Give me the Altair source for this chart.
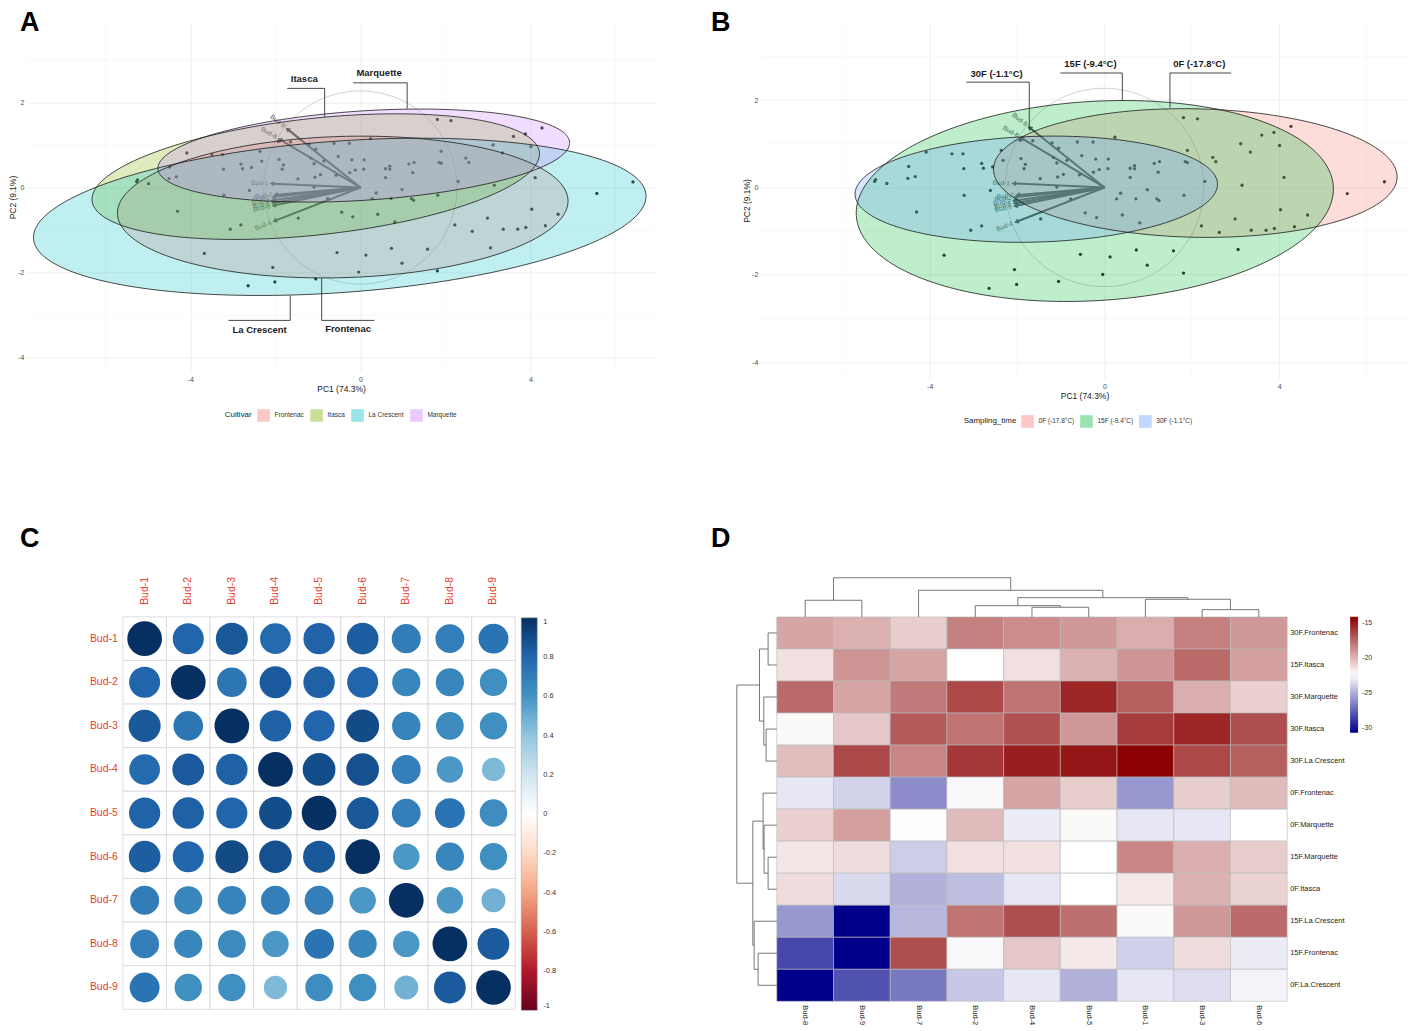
import numpy as np
import pandas as pd
import altair as alt

FONT = "Liberation Sans"
MINUS_FIX = "replace(datum.label, '\u2212', '-')"

pc1 = [-4.08, -3.49, -3.24, -4.48, -3.22, -2.81, -2.77, -2.56, -4.33, -4.50,
       -5.24, -5.26, -4.98, -3.21, -2.61, -4.30, -3.06, -2.81, -1.46, -2.36,
       -1.93, -1.64, -1.20, -1.05, -0.62, -0.26, -2.32, -1.91, -1.81, -1.84,
       -1.17, -1.09, -0.86, -0.52, -0.20, 0.09, -1.47, -1.07, -0.94, -0.57,
       -0.25, -0.12, 0.08, -1.09, -0.77, -0.44, -0.18, 0.28,
       -3.67, -2.06, -2.64, -2.01, -1.05, -0.55, -0.04, 0.13,
       1.81, 2.13, 4.27, 3.60, 3.88, 3.12, 4.01, 3.34, 1.90, 2.48,
       2.55, 4.11, 3.15, 2.30, 5.56, 6.41, 4.03, 4.65, 2.99, 2.22,
       2.63, 3.36, 3.70, 3.89, 4.35,
       0.24, 0.59, 0.69, 0.69, 1.14, 1.26, 1.23, 1.85, 1.90, 0.59,
       0.98, 0.37, 0.72, 1.20, 1.25, 1.82, 0.41, 0.81,
       0.73, 1.58, 3.06, 0.98, 1.81]
pc2 = [0.81, 0.77, 0.77, 0.48, 0.43, 0.55, 0.44, 0.47, 0.25, 0.21,
       0.18, 0.14, 0.09, -0.18, -0.07, -0.56, -0.98, -0.88, -0.72, 0.85,
       1.08, 1.07, 1.02, 0.90, 1.04, 1.04, 0.62, 0.66, 0.53, 0.43,
       0.69, 0.56, 0.62, 0.73, 0.65, 0.65, 0.20, 0.24, 0.30, 0.29,
       0.35, 0.41, 0.43, 0.01, -0.26, -0.58, -0.69, -0.26,
       -1.55, -1.88, -2.31, -2.22, -2.15, -1.53, -1.99, -1.59,
       1.60, 1.57, 1.40, 1.20, 1.26, 1.00, 0.96, 0.81, 0.85, 0.69,
       0.59, 0.23, 0.05, 0.14, -0.14, 0.13, -0.51, -0.63, -0.72, -0.88,
       -1.03, -0.98, -0.98, -0.94, -0.90,
       1.15, 0.44, 0.50, 0.43, 0.55, 0.59, 0.35, 0.59, 0.57, 0.23,
       -0.05, -0.13, -0.26, -0.26, -0.30, -0.18, -0.63, -0.81,
       -1.43, -1.45, -1.42, -1.78, -1.96]

# variable arrows (loadings scaled)
bud_names = ["Bud-1", "Bud-2", "Bud-3", "Bud-4", "Bud-5", "Bud-6", "Bud-7", "Bud-8", "Bud-9"]
load_pc1 = [-2.06, -2.02, -2.05, -2.00, -2.03, -2.02, -1.97, -1.88, -1.70]
load_pc2 = [0.09, -0.22, -0.30, -0.78, -0.36, -0.42, -0.17, 1.12, 1.36]
corr_circle_r = 2.27

pc_x_ticks = [-4, 0, 4]
pc_y_ticks = [-4, -2, 0, 2]
minor_x = [-6, -2, 2, 6]
minor_y = [-3, -1, 1, 3]

# ---- Panel A: cultivar ellipses ----
cult_names = ["Frontenac", "Itasca", "La Crescent", "Marquette"]
cult_colors = ["#F8766D", "#7CAE00", "#00BFC4", "#C77CFF"]
cult_cx = [-0.415, -1.05, -0.485, 0.08]
cult_cy = [-0.46, 0.255, -0.69, 0.75]
cult_a = [5.30, 5.29, 7.22, 4.85]
cult_b = [1.66, 1.37, 1.78, 1.05]
cult_ang = [1.7, 6.2, 4.1, 3.7]
annA_text = ["Itasca", "Marquette", "La Crescent", "Frontenac"]
annA_tx = [-1.32, 0.44, -2.37, -0.29]
annA_ty = [2.55, 2.68, -3.34, -3.32]
annA_hx1 = [-1.72, -0.17, -3.10, -0.91]
annA_hx2 = [-0.84, 1.10, -1.65, 0.33]
annA_hy = [2.33, 2.46, -3.125, -3.125]
annA_vx = [-0.84, 1.10, -1.65, -0.91]
annA_vy2 = [1.66, 1.85, -2.54, -2.13]

# ---- Panel B: sampling-time ellipses ----
time_names = ["0F (-17.8°C)", "15F (-9.4°C)", "30F (-1.1°C)"]
time_colors = ["#F8766D", "#00BA38", "#619CFF"]
time_cx = [2.08, -0.22, -1.56]
time_cy = [0.33, -0.31, -0.04]
time_a = [4.62, 5.47, 4.15]
time_b = [1.47, 2.28, 1.21]
time_ang = [-1.2, 3.5, 1.7]
annB_text = ["30F (-1.1°C)", "15F (-9.4°C)", "0F (-17.8°C)"]
annB_tx = [-2.47, -0.32, 2.17]
annB_ty = [2.60, 2.83, 2.83]
annB_hx1 = [-3.16, -1.01, 1.50]
annB_hx2 = [-1.72, 0.41, 2.90]
annB_hy = [2.41, 2.62, 2.62]
annB_vx = [-1.72, 0.41, 1.50]
annB_vy2 = [1.33, 2.00, 1.83]

# ---- Panel C: correlation matrix ----
corr_matrix = [
    [1.00, 0.80, 0.85, 0.78, 0.81, 0.83, 0.70, 0.69, 0.74],
    [0.80, 1.00, 0.73, 0.84, 0.82, 0.80, 0.66, 0.66, 0.62],
    [0.85, 0.73, 1.00, 0.82, 0.80, 0.90, 0.67, 0.64, 0.62],
    [0.78, 0.84, 0.82, 1.00, 0.89, 0.88, 0.69, 0.58, 0.45],
    [0.81, 0.82, 0.80, 0.89, 1.00, 0.85, 0.69, 0.74, 0.63],
    [0.83, 0.80, 0.90, 0.88, 0.85, 1.00, 0.58, 0.66, 0.62],
    [0.70, 0.66, 0.67, 0.69, 0.69, 0.58, 1.00, 0.58, 0.48],
    [0.69, 0.66, 0.64, 0.58, 0.74, 0.66, 0.58, 1.00, 0.84],
    [0.74, 0.62, 0.62, 0.45, 0.63, 0.62, 0.48, 0.84, 1.00],
]
corr_ticks = [-1, -0.8, -0.6, -0.4, -0.2, 0, 0.2, 0.4, 0.6, 0.8, 1]
rdbu = ["#67001F", "#B2182B", "#D6604D", "#F4A582", "#FDDBC7", "#FFFFFF",
        "#D1E5F0", "#92C5DE", "#4393C3", "#2166AC", "#053061"]

# ---- Panel D: heatmap ----
heat_cols = ["Bud-8", "Bud-9", "Bud-7", "Bud-2", "Bud-4", "Bud-5", "Bud-1", "Bud-3", "Bud-6"]
heat_rows = ["30F.Frontenac", "15F.Itasca", "30F.Marquette", "30F.Itasca", "30F.La.Crescent",
             "0F.Frontenac", "0F.Marquette", "15F.Marquette", "0F.Itasca", "15F.La.Crescent",
             "15F.Frontenac", "0F.La.Crescent"]
heat_vals = [
    [-19.5, -19.9, -20.8, -18.3, -18.7, -19.1, -19.8, -18.3, -19.1],
    [-21.4, -19.0, -19.5, -22.4, -21.4, -19.9, -19.0, -17.6, -19.3],
    [-17.6, -19.5, -18.1, -16.5, -17.9, -15.4, -17.3, -19.8, -20.9],
    [-22.2, -20.6, -17.1, -17.9, -16.8, -19.1, -16.1, -15.4, -16.7],
    [-20.3, -16.5, -18.5, -16.0, -15.2, -14.9, -14.2, -16.5, -17.3],
    [-23.2, -23.8, -26.1, -22.6, -19.5, -20.8, -25.7, -20.8, -20.2],
    [-20.9, -19.3, -22.3, -20.2, -23.0, -22.2, -23.2, -23.2, -22.4],
    [-21.6, -21.3, -24.0, -21.4, -21.4, -22.4, -18.5, -19.8, -20.8],
    [-21.3, -23.6, -24.9, -24.5, -23.2, -22.4, -21.7, -19.9, -21.0],
    [-25.7, -30.6, -24.7, -17.9, -16.7, -17.8, -22.2, -19.1, -17.6],
    [-28.3, -30.6, -16.7, -22.6, -20.6, -21.7, -23.9, -21.3, -23.0],
    [-30.6, -28.0, -26.7, -24.2, -23.2, -24.9, -23.2, -23.5, -22.8],
]
heat_ticks = [-30, -25, -20, -15]
# dendrogram merges: (left, right, height); ints = leaves, "mK" = earlier merge
col_merges = [(4, 5, 9.7), (7, 8, 7.3), (3, "m0", 11.3), (6, "m1", 17.7), ("m2", "m3", 19.3),
              (0, 1, 16.7), (2, "m4", 26.7), ("m5", "m6", 39.3)]
row_merges = [(0, 1, 8.7), (3, 4, 10.7), (2, "m1", 13.0), ("m0", "m2", 17.3), (7, 8, 8.7),
              (6, "m4", 12.7), (5, "m5", 13.7), (10, 11, 18.7), (9, "m7", 22.7),
              ("m6", "m8", 24.0), ("m3", "m9", 40.0)]

# ====================================================================

def ellipse_frames(names, cx, cy, a, b, ang, field):
    fill_rows, line_rows = [], []
    for n, x0, y0, aa, bb, th in zip(names, cx, cy, a, b, ang):
        t = np.radians(th)
        c, s = np.cos(t), np.sin(t)
        W = np.sqrt((aa * c) ** 2 + (bb * s) ** 2)
        u = -W * np.cos(np.linspace(0, np.pi, 181))
        A_ = s ** 2 / aa ** 2 + c ** 2 / bb ** 2
        B_ = 2 * u * s * c * (1 / aa ** 2 - 1 / bb ** 2)
        C_ = u ** 2 * (c ** 2 / aa ** 2 + s ** 2 / bb ** 2) - 1
        disc = np.sqrt(np.clip(B_ ** 2 - 4 * A_ * C_, 0, None))
        ylo = (-B_ - disc) / (2 * A_)
        yhi = (-B_ + disc) / (2 * A_)
        for ui, lo, hi in zip(u, ylo, yhi):
            fill_rows.append({field: n, "x": x0 + ui, "ylo": y0 + lo, "yhi": y0 + hi})
        p = np.linspace(0, 2 * np.pi, 241)
        ex = x0 + aa * c * np.cos(p) - bb * s * np.sin(p)
        ey = y0 + aa * s * np.cos(p) + bb * c * np.sin(p)
        for k, (xx, yy) in enumerate(zip(ex, ey)):
            line_rows.append({field: n, "x": xx, "y": yy, "k": k})
    return pd.DataFrame(fill_rows), pd.DataFrame(line_rows)


def letter_title(letter, dx, off):
    return alt.TitleParams(text=letter, anchor="start", frame="group", dx=dx, offset=off,
                           fontSize=27, fontWeight="bold", font=FONT, color="black",
                           baseline="alphabetic")


def pca_panel(field, names, colors, cx, cy, a, b, ang, ann, xdom, ydom, w, h,
              legend_title, legend_x, legend_y, letter, letter_dx, letter_off):
    fill_df, line_df = ellipse_frames(names, cx, cy, a, b, ang, field)
    xs = alt.Scale(domain=xdom, nice=False, zero=False)
    ys = alt.Scale(domain=ydom, nice=False, zero=False)
    common = dict(grid=True, gridColor="#ebebeb", gridWidth=0.8, domain=False, ticks=False,
                  labelFontSize=7, labelColor="#4d4d4d", titleFontSize=8.5,
                  titleFontWeight="normal", titleColor="#1a1a1a", format="d",
                  labelExpr=MINUS_FIX, labelFont=FONT, titleFont=FONT)
    ax = alt.Axis(title="PC1 (74.3%)", values=pc_x_ticks, labelPadding=3, titlePadding=2, **common)
    ay = alt.Axis(title="PC2 (9.1%)", values=pc_y_ticks, labelPadding=3, titlePadding=0, **common)

    def X(f):
        return alt.X(f"{f}:Q", scale=xs, axis=ax)

    def Y(f):
        return alt.Y(f"{f}:Q", scale=ys, axis=ay)

    mx = alt.Chart(pd.DataFrame({"x": minor_x})).mark_rule(color="#f4f4f4", strokeWidth=0.6).encode(x=X("x"))
    my = alt.Chart(pd.DataFrame({"y": minor_y})).mark_rule(color="#f4f4f4", strokeWidth=0.6).encode(y=Y("y"))

    tt = np.linspace(0, 2 * np.pi, 181)
    circ_df = pd.DataFrame({"x": corr_circle_r * np.cos(tt), "y": corr_circle_r * np.sin(tt),
                            "k": np.arange(len(tt))})
    circ = alt.Chart(circ_df).mark_line(color="#bdbdbd", strokeWidth=0.7).encode(
        x=X("x"), y=Y("y"), order="k:Q")

    arr = pd.DataFrame({"name": bud_names, "x": load_pc1, "y": load_pc2})
    arr["x0"] = 0.0
    arr["y0"] = 0.0
    arr["lx"] = arr["x"] * 1.05
    arr["ly"] = arr["y"] * 1.05
    arr["tangle"] = (-np.degrees(np.arctan(arr["y"] / arr["x"]))) % 360
    arr["hangle"] = np.degrees(np.arctan2(arr["x"], arr["y"])) % 360
    arrows = alt.Chart(arr).mark_rule(color="#454545", strokeWidth=2.0).encode(
        x=X("x0"), y=Y("y0"), x2="x:Q", y2="y:Q")
    heads = alt.Chart(arr).mark_point(shape="triangle", filled=True, size=30, color="#454545",
                                      opacity=1).encode(
        x=X("x"), y=Y("y"), angle=alt.Angle("hangle:Q", scale=None))
    alabels = alt.Chart(arr).mark_text(align="right", baseline="middle", fontSize=6.5,
                                       color="#555555", font=FONT).encode(
        x=X("lx"), y=Y("ly"), text="name:N", angle=alt.Angle("tangle:Q", scale=None))

    pts = alt.Chart(pd.DataFrame({"x": pc1, "y": pc2})).mark_circle(
        size=11, color="#262626", opacity=1).encode(x=X("x"), y=Y("y"))

    fills = alt.Chart(fill_df).mark_area(fillOpacity=0.25, interpolate="linear").encode(
        x=X("x"), y=Y("ylo"), y2="yhi:Q",
        color=alt.Color(f"{field}:N", scale=alt.Scale(domain=names, range=colors),
                        legend=alt.Legend(title=legend_title, orient="none", legendX=legend_x,
                                          legendY=legend_y, direction="horizontal",
                                          titleOrient="left", symbolType="square", symbolSize=160,
                                          symbolOpacity=0.4, symbolStrokeWidth=0.8,
                                          labelFontSize=6.5, titleFontSize=8,
                                          titleFontWeight="normal", labelFont=FONT, titleFont=FONT,
                                          columnPadding=5, labelOffset=4, titlePadding=4,
                                          labelColor="#333333", titleColor="#1a1a1a")))
    outlines = alt.Chart(line_df).mark_line(color="#1a1a1a", strokeWidth=0.8).encode(
        x=X("x"), y=Y("y"), detail=f"{field}:N", order="k:Q")

    text, tx, ty, hx1, hx2, hy, vx, vy2 = ann
    ann_df = pd.DataFrame({"label": text, "tx": tx, "ty": ty, "hx1": hx1, "hx2": hx2,
                           "hy": hy, "vx": vx, "vy2": vy2})
    lead_h = alt.Chart(ann_df).mark_rule(color="#333333", strokeWidth=0.9).encode(
        x=X("hx1"), x2="hx2:Q", y=Y("hy"))
    lead_v = alt.Chart(ann_df).mark_rule(color="#333333", strokeWidth=0.9).encode(
        x=X("vx"), y=Y("hy"), y2="vy2:Q")
    ann_txt = alt.Chart(ann_df).mark_text(fontWeight="bold", fontSize=9.5, color="#1a1a1a",
                                          align="center", baseline="middle", font=FONT).encode(
        x=X("tx"), y=Y("ty"), text="label:N")

    return alt.layer(mx, my, circ, arrows, heads, alabels, pts, fills, outlines,
                     lead_h, lead_v, ann_txt).properties(
        width=w, height=h, title=letter_title(letter, letter_dx, letter_off))


panelA = pca_panel("Cultivar", cult_names, cult_colors, cult_cx, cult_cy, cult_a, cult_b, cult_ang,
                   (annA_text, annA_tx, annA_ty, annA_hx1, annA_hx2, annA_hy, annA_vx, annA_vy2),
                   [-7.84, 6.93], [-4.343, 3.897], 629, 351, "Cultivar", 198, 387, "A", -7, -37)
panelB = pca_panel("Sampling_time", time_names, time_colors, time_cx, time_cy, time_a, time_b,
                   time_ang,
                   (annB_text, annB_tx, annB_ty, annB_hx1, annB_hx2, annB_hy, annB_vx, annB_vy2),
                   [-7.863, 6.949], [-4.389, 3.794], 648, 358, "Sampling_time", 203, 393, "B",
                   -50, -37)

# ---------------- Panel C ----------------
c_rows = []
for j, rn in enumerate(bud_names):
    for i, cn in enumerate(bud_names):
        r = corr_matrix[j][i]
        c_rows.append({"x": i, "x2": i + 1, "y": j, "y2": j + 1, "xc": i + 0.5, "yc": j + 0.5,
                       "r": r, "absr": abs(r)})
c_df = pd.DataFrame(c_rows)
xsC = alt.Scale(domain=[0, 9], nice=False, zero=False)
ysC = alt.Scale(domain=[-0.916, 9], reverse=True, nice=False, zero=False)
c_cells = alt.Chart(c_df).mark_rect(fill="white", stroke="#d6d6df", strokeWidth=0.8).encode(
    x=alt.X("x:Q", scale=xsC, axis=None), x2="x2:Q",
    y=alt.Y("y:Q", scale=ysC, axis=None), y2="y2:Q")
c_circ = alt.Chart(c_df).mark_circle(opacity=1).encode(
    x=alt.X("xc:Q", scale=xsC, axis=None), y=alt.Y("yc:Q", scale=ysC, axis=None),
    size=alt.Size("absr:Q", scale=alt.Scale(domain=[0, 1], range=[0, 1210]), legend=None),
    color=alt.Color("r:Q", scale=alt.Scale(domain=corr_ticks, range=rdbu, interpolate="rgb"),
                    legend=alt.Legend(title=None, orient="none", legendX=399, legendY=41,
                                      direction="vertical", gradientLength=393,
                                      gradientThickness=16, values=corr_ticks, format=".1~f",
                                      labelExpr=MINUS_FIX,
                                      labelFontSize=7.5, labelColor="#333333", labelOffset=6,
                                      labelFont=FONT, labelOverlap=False,
                                      gradientStrokeColor="#999999", gradientStrokeWidth=0.5)))
lab_df = pd.DataFrame({"name": bud_names, "pos": [k + 0.5 for k in range(9)]})
lab_df["top"] = -0.275
lab_df["left"] = -0.115
c_top = alt.Chart(lab_df).mark_text(angle=270, align="left", baseline="middle", fontSize=10.5,
                                    color="#E5402F", font=FONT).encode(
    x=alt.X("pos:Q", scale=xsC, axis=None), y=alt.Y("top:Q", scale=ysC, axis=None), text="name:N")
c_left = alt.Chart(lab_df).mark_text(align="right", baseline="middle", fontSize=10.5,
                                     color="#E5402F", font=FONT).encode(
    x=alt.X("left:Q", scale=xsC, axis=None), y=alt.Y("pos:Q", scale=ysC, axis=None), text="name:N")
panelC = alt.layer(c_cells, c_circ, c_top, c_left).properties(
    width=393, height=433, title=letter_title("C", -103, 3))

# ---------------- Panel D ----------------
d_rows = []
for j, rn in enumerate(heat_rows):
    for i, cn in enumerate(heat_cols):
        d_rows.append({"x": i, "x2": i + 1, "y": j, "y2": j + 1, "v": heat_vals[j][i]})
d_df = pd.DataFrame(d_rows)
xsD = alt.Scale(domain=[-0.72, 9], nice=False, zero=False)
ysD = alt.Scale(domain=[-1.25, 12], reverse=True, nice=False, zero=False)


def dendro_segments(merges, n):
    pos = {i: (i + 0.5, 0.0) for i in range(n)}
    segs = []
    for k, (l, r, hgt) in enumerate(merges):
        pl, hl = pos[l]
        pr, hr = pos[r]
        segs += [(pl, hl, pl, hgt), (pr, hr, pr, hgt), (pl, hgt, pr, hgt)]
        pos[f"m{k}"] = ((pl + pr) / 2, hgt)
    return segs


col_px, row_px = 56.78, 32.08
top_segs = dendro_segments(col_merges, 9)
left_segs = dendro_segments(row_merges, 12)
seg_df = pd.DataFrame(
    [{"sx": p1, "sy": -h1 / row_px, "sx2": p2, "sy2": -h2 / row_px} for p1, h1, p2, h2 in top_segs] +
    [{"sx": -h1 / col_px, "sy": p1, "sx2": -h2 / col_px, "sy2": p2} for p1, h1, p2, h2 in left_segs])

d_cells = alt.Chart(d_df).mark_rect(stroke="#b8b8b8", strokeWidth=0.6).encode(
    x=alt.X("x:Q", scale=xsD, axis=None), x2="x2:Q",
    y=alt.Y("y:Q", scale=ysD, axis=None), y2="y2:Q",
    color=alt.Color("v:Q", scale=alt.Scale(domain=[-30.6, -22.4, -14.2],
                                           range=["#00008B", "#FFFFFF", "#8B0000"],
                                           interpolate="rgb"),
                    legend=alt.Legend(title=None, orient="none", legendX=615, legendY=40,
                                      direction="vertical", gradientLength=116,
                                      gradientThickness=8, values=heat_ticks, format="d",
                                      labelExpr=MINUS_FIX,
                                      labelFontSize=7, labelColor="#333333", labelOffset=4,
                                      labelFont=FONT, labelOverlap=False,
                                      gradientStrokeWidth=0)))
d_dend = alt.Chart(seg_df).mark_rule(color="#555555", strokeWidth=0.8).encode(
    x=alt.X("sx:Q", scale=xsD, axis=None), y=alt.Y("sy:Q", scale=ysD, axis=None),
    x2="sx2:Q", y2="sy2:Q")
rl_df = pd.DataFrame({"name": heat_rows, "pos": [k + 0.5 for k in range(12)]})
rl_df["edge"] = 9.0
cl_df = pd.DataFrame({"name": heat_cols, "pos": [k + 0.5 for k in range(9)]})
cl_df["edge"] = 12.0
d_rlab = alt.Chart(rl_df).mark_text(align="left", baseline="middle", dx=3, fontSize=7.5,
                                    color="#222222", font=FONT).encode(
    x=alt.X("edge:Q", scale=xsD, axis=None), y=alt.Y("pos:Q", scale=ysD, axis=None), text="name:N")
d_clab = alt.Chart(cl_df).mark_text(angle=90, align="left", baseline="middle", dx=4, fontSize=7.5,
                                    color="#222222", font=FONT).encode(
    x=alt.X("pos:Q", scale=xsD, axis=None), y=alt.Y("edge:Q", scale=ysD, axis=None), text="name:N")
panelD = alt.layer(d_cells, d_dend, d_rlab, d_clab).properties(
    width=552, height=425, title=letter_title("D", -25, 3))


def spacer(w, h=1):
    return alt.Chart(pd.DataFrame({"s": [0], "e": [1]})).mark_rect(opacity=0).encode(
        x=alt.X("s:Q", axis=None, scale=alt.Scale(domain=[0, 1])), x2="e:Q",
        y=alt.Y("s:Q", axis=None, scale=alt.Scale(domain=[0, 1])), y2="e:Q").properties(
        width=w, height=h)


indep = dict(x="independent", y="independent", color="independent", size="independent",
             angle="independent")
row1 = alt.hconcat(spacer(19), panelA, spacer(106), panelB, spacing=0,
                   bounds="flush").resolve_scale(**indep)
row2 = alt.hconcat(spacer(115), panelC, spacer(221), panelD, spacing=0,
                   bounds="flush").resolve_scale(**indep)
chart = alt.vconcat(row1, row2, spacing=96, padding=0).resolve_scale(
    **indep).configure_view(stroke=None).configure_text(font=FONT)

chart.save("out.html", embed_options={"renderer": "svg", "actions": False})
